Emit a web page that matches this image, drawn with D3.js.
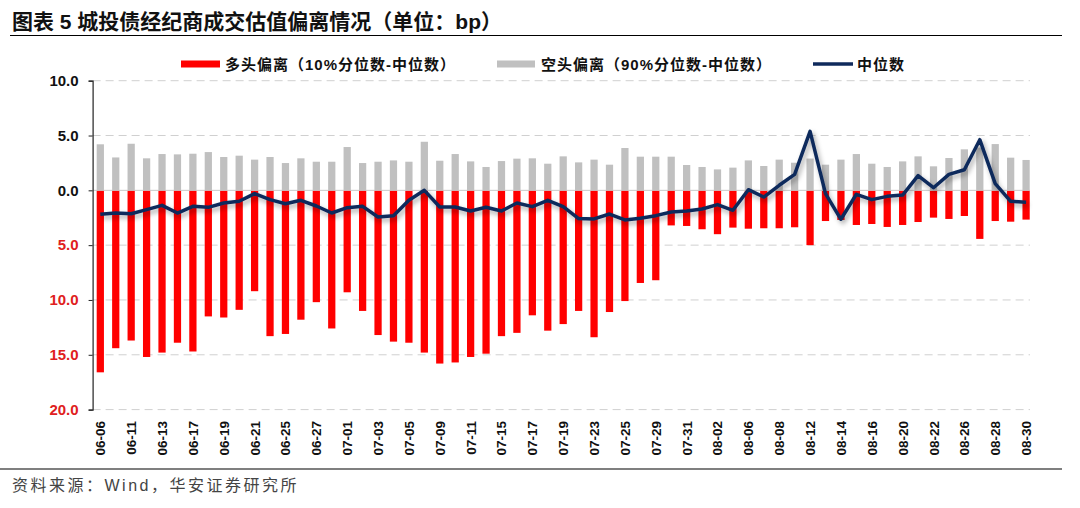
<!DOCTYPE html>
<html><head><meta charset="utf-8">
<script src="https://cdn.jsdelivr.net/npm/d3@7"></script>
<style>
body{margin:0;background:#fff;}
svg{display:block;font-family:"Liberation Sans","Noto Sans CJK SC",Arial,sans-serif;}
</style></head>
<body>
<svg id="c" width="1080" height="508"></svg>
<script>
const dates = ["06-06","06-07","06-11","06-12","06-13","06-14","06-17","06-18","06-19","06-20","06-21","06-24","06-25","06-26","06-27","06-28",
"07-01","07-02","07-03","07-04","07-05","07-08","07-09","07-10","07-11","07-12","07-15","07-16","07-17","07-18","07-19","07-22","07-23","07-24","07-25","07-26","07-29","07-30","07-31",
"08-01","08-02","08-05","08-06","08-07","08-08","08-09","08-12","08-13","08-14","08-15","08-16","08-19","08-20","08-21","08-22","08-23","08-26","08-27","08-28","08-29","08-30"];
const longDev = [-16.6,-14.4,-13.7,-15.2,-14.8,-13.9,-14.7,-11.5,-11.6,-10.9,-9.2,-13.3,-13.1,-11.8,-10.2,-12.6,-9.3,-11.0,-13.2,-13.8,
-13.9,-14.8,-15.8,-15.7,-15.2,-14.9,-13.3,-13.0,-11.4,-12.8,-12.2,-11.0,-13.4,-11.1,-10.1,-8.45,-8.2,-3.2,-3.25,-3.55,
-4.0,-3.4,-3.5,-3.46,-3.46,-3.37,-5.0,-2.8,-2.7,-3.16,-3.07,-3.34,-3.16,-2.89,-2.49,-2.61,-2.34,-4.43,-2.8,-2.86,-2.67];
const shortDev = [4.2,3.0,4.25,2.92,3.31,3.28,3.34,3.49,3.04,3.16,2.8,3.04,2.49,2.92,2.61,2.61,3.95,2.49,2.61,2.73,
2.61,4.43,2.7,3.31,2.64,2.13,2.67,2.89,2.92,2.43,3.1,2.55,2.8,2.34,3.86,3.07,3.07,3.07,2.31,2.13,
1.91,2.07,2.73,2.22,2.8,2.52,2.9,2.34,2.8,3.31,2.43,2.13,2.64,3.1,2.19,2.95,3.74,3.9,4.22,2.98,2.77];
const median = [-2.19,-2.07,-2.13,-1.76,-1.37,-2.07,-1.46,-1.55,-1.16,-1.0,-0.3,-0.85,-1.22,-0.91,-1.43,-2.07,-1.58,-1.46,-2.43,-2.31,
-0.9,0.0,-1.52,-1.52,-1.88,-1.55,-1.88,-1.16,-1.49,-0.91,-1.49,-2.58,-2.61,-2.16,-2.7,-2.55,-2.31,-1.97,-1.88,-1.7,
-1.3,-1.82,0.06,-0.61,0.46,1.46,5.38,-0.3,-2.64,-0.36,-0.85,-0.55,-0.43,1.34,0.24,1.46,1.88,4.62,0.61,-1.0,-1.09];
const yTicks = [10,5,0,-5,-10,-15,-20];
const legendNames = ["多头偏离（10%分位数-中位数）","空头偏离（90%分位数-中位数）","中位数"];
const titleText = "图表 5 城投债经纪商成交估值偏离情况（单位：bp）";
const sourceText = "资料来源：Wind，华安证券研究所";

const svg = d3.select("#c");
const mL = 92.6, mR = 1033.8, mT = 80.7, mB = 409.6;

const defs = svg.append("defs");
const f = defs.append("filter").attr("id","sh").attr("x","-10%").attr("y","-30%").attr("width","120%").attr("height","160%");
f.append("feDropShadow").attr("dx",2).attr("dy",3).attr("stdDeviation",2.5).attr("flood-color","#000").attr("flood-opacity",0.35);

// title
svg.append("text").attr("x",12).attr("y",29).attr("font-size",21).attr("font-weight","bold").attr("fill","#111").text(titleText);
svg.append("line").attr("x1",10).attr("x2",1062).attr("y1",35.5).attr("y2",35.5).attr("stroke","#000").attr("stroke-width",1.2);
svg.append("line").attr("x1",0).attr("x2",1062).attr("y1",469).attr("y2",469).attr("stroke","#000").attr("stroke-width",1.2);
svg.append("text").attr("x",12).attr("y",491).attr("font-size",16).attr("letter-spacing",2.5).attr("fill","#444").text(sourceText);

const x = d3.scaleBand().domain(dates).range([mL,mR]).paddingInner(0.53).paddingOuter(0.265);
const y = d3.scaleLinear().domain([-20,10]).range([mB,mT]);

// gridlines
svg.append("g").selectAll("line").data(yTicks.filter(d=>d!==0)).join("line")
  .attr("x1",mL).attr("x2",1030).attr("y1",d=>y(d)).attr("y2",d=>y(d))
  .attr("stroke","#d0d0d0").attr("stroke-width",1).attr("stroke-dasharray","8,5");

// bars
svg.append("g").selectAll("rect").data(dates).join("rect")
  .attr("x",d=>x(d)).attr("width",x.bandwidth())
  .attr("y",(d,i)=>y(shortDev[i])).attr("height",(d,i)=>y(0)-y(shortDev[i]))
  .attr("fill","#c0c0c0");
svg.append("g").selectAll("rect").data(dates).join("rect")
  .attr("x",d=>x(d)).attr("width",x.bandwidth())
  .attr("y",y(0)).attr("height",(d,i)=>y(longDev[i])-y(0))
  .attr("fill","#ff0000");

// zero line
svg.append("line").attr("x1",mL).attr("x2",1030).attr("y1",y(0)).attr("y2",y(0)).attr("stroke","#c8c8c8").attr("stroke-width",1);

// line
const line = d3.line().x((d,i)=>x(dates[i])+x.bandwidth()/2).y(d=>y(d));
svg.append("path").datum(median).attr("d",line).attr("fill","none")
  .attr("stroke","#0f2a5c").attr("stroke-width",3.5).attr("stroke-linejoin","round").attr("filter","url(#sh)");

// y axis
const yAxis = d3.axisLeft(y).tickValues(yTicks).tickSize(4).tickPadding(10).tickFormat(d=>d3.format(".1f")(Math.abs(d)));
const ga = svg.append("g").attr("transform",`translate(${mL},0)`).call(yAxis);
ga.select(".domain").attr("stroke","#222").attr("stroke-width",1.2);
ga.selectAll(".tick line").attr("stroke","#222");
ga.selectAll(".tick text").attr("font-size",15).attr("font-weight","bold")
  .attr("font-family","'Liberation Sans',Arial,sans-serif")
  .attr("fill",d=>d<0?"#e02020":"#111");

// x labels
svg.append("g").selectAll("text").data(dates.filter((d,i)=>i%2===0)).join("text")
  .attr("transform",d=>`translate(${x(d)+x.bandwidth()/2+5},421) rotate(-90)`)
  .attr("text-anchor","end").attr("font-size",13.5).attr("font-weight","bold").attr("fill","#111")
  .text(d=>d);

// legend
const lg = svg.append("g").attr("font-size",15).attr("letter-spacing",1).attr("font-weight","bold").attr("fill","#111");
lg.append("rect").attr("x",181).attr("y",60.5).attr("width",39).attr("height",7).attr("fill","#ff0000");
lg.append("text").attr("x",225).attr("y",69.5).text(legendNames[0]);
lg.append("rect").attr("x",497).attr("y",60.5).attr("width",38).attr("height",7).attr("fill","#c0c0c0");
lg.append("text").attr("x",541).attr("y",69.5).text(legendNames[1]);
lg.append("line").attr("x1",813).attr("x2",853).attr("y1",64).attr("y2",64).attr("stroke","#0f2a5c").attr("stroke-width",3.5);
lg.append("text").attr("x",857).attr("y",69.5).text(legendNames[2]);
</script>
</body></html>
